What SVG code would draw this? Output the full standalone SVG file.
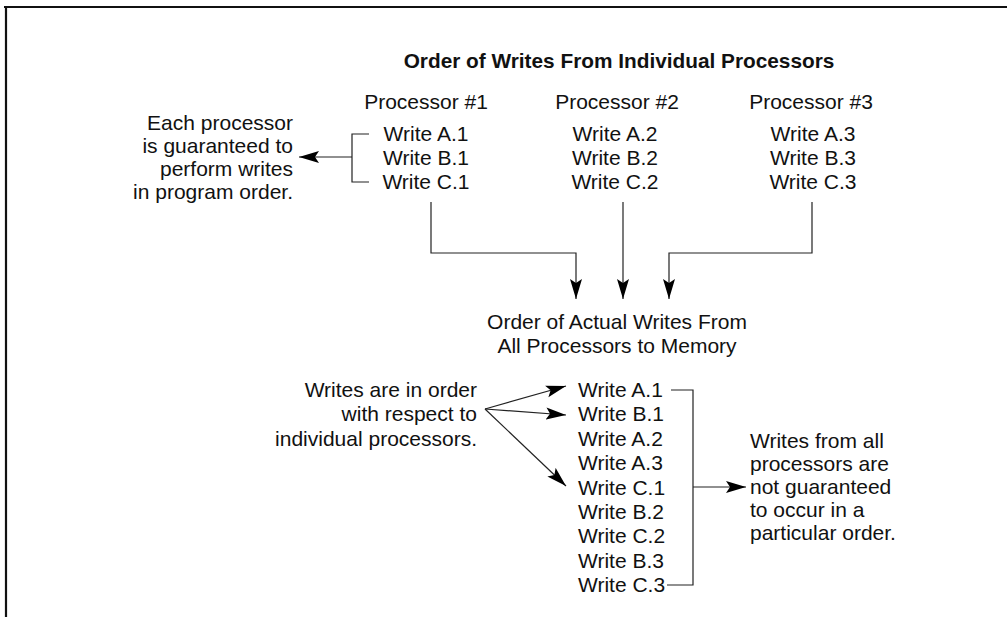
<svg xmlns="http://www.w3.org/2000/svg" width="1007" height="617" viewBox="0 0 1007 617">
<style>
.t{font-family:"Liberation Sans",Arial,Helvetica,sans-serif;font-size:21px;fill:#111}
.b{font-weight:bold;font-size:20.8px}
.m{text-anchor:middle}
.e{text-anchor:end}
.ln{fill:none;stroke:#222;stroke-width:1.2}
.fr{fill:none;stroke:#111;stroke-width:2.2}
</style>
<defs>
<marker id="ah" markerUnits="userSpaceOnUse" markerWidth="21" markerHeight="13" refX="20" refY="6.5" orient="auto">
<path d="M0,0.5 L20,6.5 L0,12.5 L4,6.5 z" fill="#000"/>
</marker>
</defs>
<rect width="1007" height="617" fill="#fff"/>
<g id="frame">
<path class="fr" d="M4,7 H1007 M6,7 V617"/>
</g>
<g id="title"><text class="t b m" x="619" y="68">Order of Writes From Individual Processors</text></g>
<g id="proc1">
<text class="t m" x="426" y="109">Processor #1</text>
<text class="t m" x="426" y="141">Write A.1</text>
<text class="t m" x="426" y="165">Write B.1</text>
<text class="t m" x="426" y="189">Write C.1</text>
</g>
<g id="proc2">
<text class="t m" x="617" y="109">Processor #2</text>
<text class="t m" x="615" y="141">Write A.2</text>
<text class="t m" x="615" y="165">Write B.2</text>
<text class="t m" x="615" y="189">Write C.2</text>
</g>
<g id="proc3">
<text class="t m" x="811" y="109">Processor #3</text>
<text class="t m" x="813" y="141">Write A.3</text>
<text class="t m" x="813" y="165">Write B.3</text>
<text class="t m" x="813" y="189">Write C.3</text>
</g>
<g id="note1">
<text class="t e" x="293" y="130">Each processor</text>
<text class="t e" x="293" y="153">is guaranteed to</text>
<text class="t e" x="293" y="176">perform writes</text>
<text class="t e" x="293" y="199">in program order.</text>
</g>
<g id="memory">
<text class="t m" x="617" y="329">Order of Actual Writes From</text>
<text class="t m" x="617" y="353">All Processors to Memory</text>
</g>
<g id="note2">
<text class="t e" x="477" y="397">Writes are in order</text>
<text class="t e" x="477" y="421">with respect to</text>
<text class="t e" x="477" y="446">individual processors.</text>
</g>
<g id="list">
<text class="t" x="578" y="397">Write A.1</text>
<text class="t" x="578" y="421.4">Write B.1</text>
<text class="t" x="578" y="445.8">Write A.2</text>
<text class="t" x="578" y="470.2">Write A.3</text>
<text class="t" x="578" y="494.6">Write C.1</text>
<text class="t" x="578" y="519">Write B.2</text>
<text class="t" x="578" y="543.4">Write C.2</text>
<text class="t" x="578" y="567.8">Write B.3</text>
<text class="t" x="578" y="592.2">Write C.3</text>
</g>
<g id="note3">
<text class="t" x="750" y="448">Writes from all</text>
<text class="t" x="750" y="471">processors are</text>
<text class="t" x="750" y="494">not guaranteed</text>
<text class="t" x="750" y="517">to occur in a</text>
<text class="t" x="750" y="540">particular order.</text>
</g>
<g id="connectors">
<path class="ln" d="M369,134 H352 V182 H369"/>
<path class="ln" d="M352,157 H299" marker-end="url(#ah)"/>
<path class="ln" d="M431,202 V253 H576 V299" marker-end="url(#ah)"/>
<path class="ln" d="M623,202 V299" marker-end="url(#ah)"/>
<path class="ln" d="M812,202 V253 H669 V299" marker-end="url(#ah)"/>
<path class="ln" d="M485,409 L566,386" marker-end="url(#ah)"/>
<path class="ln" d="M485,409 L566,415" marker-end="url(#ah)"/>
<path class="ln" d="M485,409 L566,486" marker-end="url(#ah)"/>
<path class="ln" d="M671,390 H693 V585 H667"/>
<path class="ln" d="M693,487 H746" marker-end="url(#ah)"/>
</g>
</svg>
